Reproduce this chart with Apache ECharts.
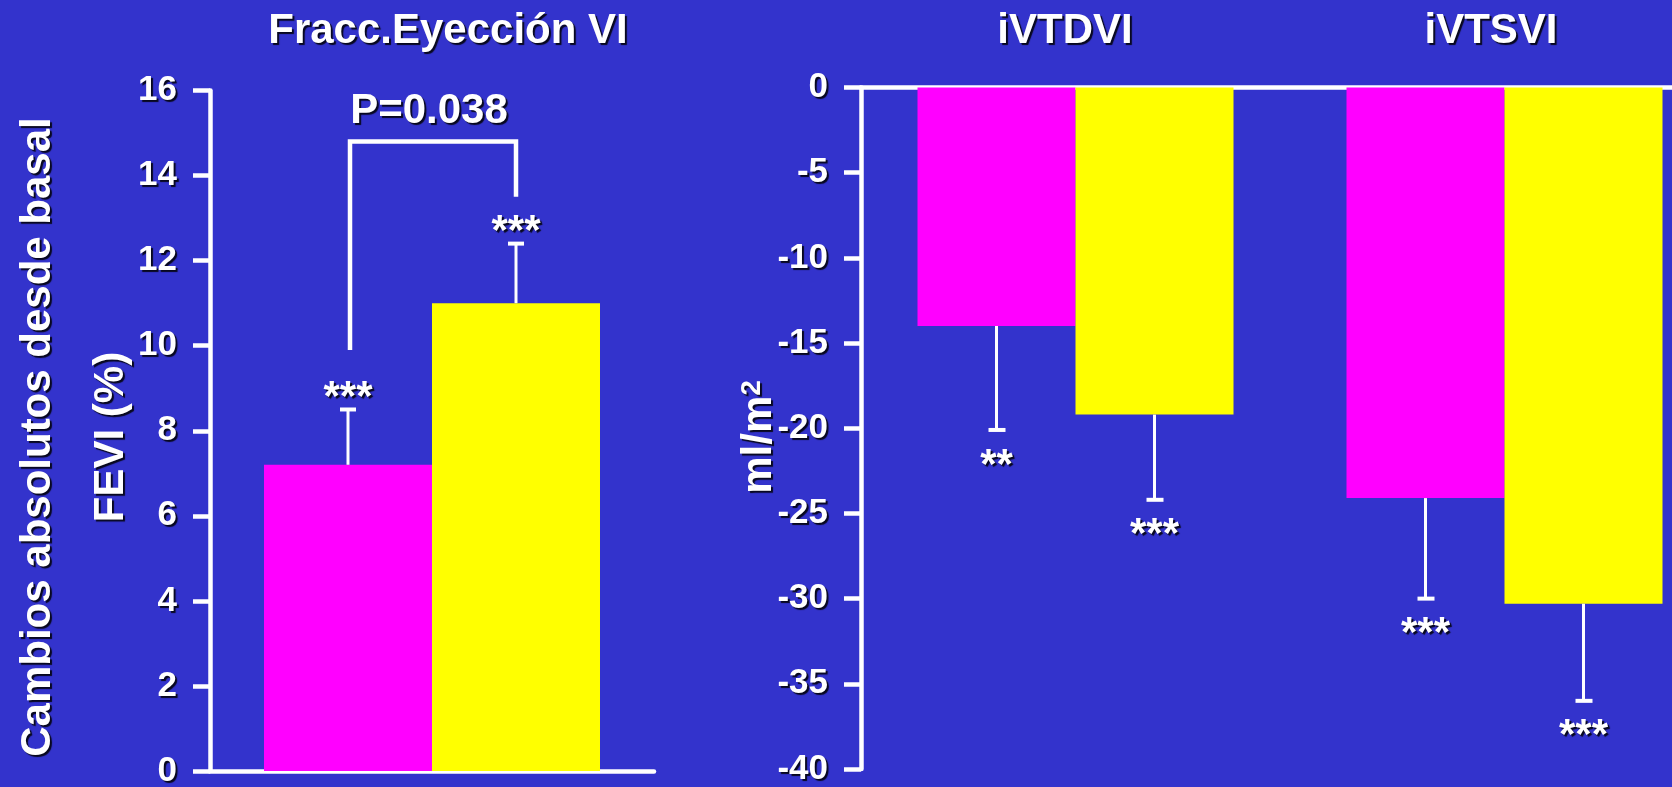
<!DOCTYPE html>
<html><head><meta charset="utf-8">
<script src="https://cdn.jsdelivr.net/npm/echarts@6/dist/echarts.min.js"></script>
<style>html,body{margin:0;padding:0;background:#3333cc}#c{width:1672px;height:787px}</style>
</head><body><div id="c"></div>
<script>
// ---- data ----
const feviCategories = ['FEVI'];
const feviMeans = [7.2, 11.0];          // magenta, yellow
const feviErrTops = [8.5, 12.4];
const feviStars = ['***', '***'];
const bracketValues = [9.9, 14.8, 13.5]; // left foot, top, right foot
const bracketText = 'P=0.038';

const volCategories = ['iVTDVI', 'iVTSVI'];
const volMagenta = [-14.0, -24.1];
const volYellow = [-19.2, -30.3];
const volMagentaErr = [-20.1, -30.0];
const volYellowErr = [-24.2, -36.0];
const volMagentaStars = ['**', '***'];
const volYellowStars = ['***', '***'];

const titles = ['Fracc.Eyección VI', 'iVTDVI', 'iVTSVI'];
const leftAxisNames = ['Cambios absolutos desde basal', 'FEVI (%)'];
const rightAxisName = ['ml/m', '2'];

// ---- style ----
const BG = '#3333cc', MAG = '#ff00ff', YEL = '#ffff00', W = '#ffffff';
const FONT = '"Liberation Sans", Arial, Helvetica, sans-serif';
const shadow = { textShadowColor: 'rgba(0,0,0,0.85)', textShadowOffsetX: 2, textShadowOffsetY: 2, textShadowBlur: 1 };
const BW_L = 168, BW_R = 158;

const chart = echarts.init(document.getElementById('c'), null, { renderer: 'canvas' });

function axisLabel() {
  return Object.assign({ color: W, fontSize: 35, fontWeight: 'bold', fontFamily: FONT, margin: 33 }, shadow);
}
function txt(text, size) {
  return Object.assign({ text: text, fill: W, font: 'bold ' + size + 'px ' + FONT, align: 'center', verticalAlign: 'middle' }, shadow);
}

const feviErrData = feviMeans.map((m, i) => [0, m, feviErrTops[i], i]);
const volErrData = [];
volCategories.forEach((c, j) => {
  volErrData.push([j, volMagenta[j], volMagentaErr[j], 0]);
  volErrData.push([j, volYellow[j], volYellowErr[j], 1]);
});

const option = {
  backgroundColor: BG,
  animation: false,
  grid: [
    { left: 210, top: 90.5, width: 444, height: 680.5, outerBoundsMode: 'none', containLabel: false },
    { left: 861, top: 87.5, width: 858, height: 681.5, outerBoundsMode: 'none', containLabel: false }
  ],
  xAxis: [
    { type: 'category', gridIndex: 0, data: feviCategories,
      axisLine: { lineStyle: { color: W, width: 4.5 } }, axisTick: { show: false }, axisLabel: { show: false } },
    { type: 'category', gridIndex: 1, data: volCategories, position: 'top',
      axisLine: { lineStyle: { color: W, width: 4.5 } }, axisTick: { show: false }, axisLabel: { show: false } }
  ],
  yAxis: [
    { type: 'value', gridIndex: 0, min: 0, max: 16, interval: 2,
      axisLine: { show: true, lineStyle: { color: W, width: 4.5 } },
      axisTick: { show: true, length: 17, lineStyle: { color: W, width: 4.5 } },
      splitLine: { show: false }, axisLabel: axisLabel() },
    { type: 'value', gridIndex: 1, min: -40, max: 0, interval: 5,
      axisLine: { show: true, lineStyle: { color: W, width: 4.5 } },
      axisTick: { show: true, length: 17, lineStyle: { color: W, width: 4.5 } },
      splitLine: { show: false }, axisLabel: axisLabel() }
  ],
  series: [
    { type: 'bar', xAxisIndex: 0, yAxisIndex: 0, data: [feviMeans[0]], barWidth: BW_L, barGap: '0%', itemStyle: { color: MAG } },
    { type: 'bar', xAxisIndex: 0, yAxisIndex: 0, data: [feviMeans[1]], barWidth: BW_L, barGap: '0%', itemStyle: { color: YEL } },
    { type: 'bar', xAxisIndex: 1, yAxisIndex: 1, data: volMagenta, barWidth: BW_R, barGap: '0%', itemStyle: { color: MAG } },
    { type: 'bar', xAxisIndex: 1, yAxisIndex: 1, data: volYellow, barWidth: BW_R, barGap: '0%', itemStyle: { color: YEL } },
    { type: 'custom', xAxisIndex: 0, yAxisIndex: 0, z: 5, data: feviErrData,
      renderItem: function (params, api) {
        const k = api.value(3);
        const base = api.coord([api.value(0), api.value(1)]);
        const end = api.coord([api.value(0), api.value(2)]);
        const x = base[0] + (k - 0.5) * BW_L;
        return {
          type: 'group',
          children: [
            { type: 'line', shape: { x1: x, y1: base[1], x2: x, y2: end[1] }, style: { stroke: W, lineWidth: 3 } },
            { type: 'rect', shape: { x: x - 8, y: end[1] - 2, width: 16, height: 4 }, style: { fill: W } },
            { type: 'text', x: x, y: end[1] - 11, style: txt(feviStars[k], 42) }
          ]
        };
      } },
    { type: 'custom', xAxisIndex: 0, yAxisIndex: 0, z: 5, data: [[0].concat(bracketValues)],
      renderItem: function (params, api) {
        const c = api.coord([api.value(0), api.value(2)]);
        const xL = c[0] - BW_L / 2 + 2, xR = c[0] + BW_L / 2;
        const yL = api.coord([0, api.value(1)])[1];
        const yT = c[1];
        const yR = api.coord([0, api.value(3)])[1];
        return {
          type: 'group',
          children: [
            { type: 'polyline', shape: { points: [[xL, yL], [xL, yT], [xR, yT], [xR, yR]] },
              style: { stroke: W, lineWidth: 4.5, fill: null, lineJoin: 'miter' } },
            { type: 'text', x: (xL + xR) / 2 - 4, y: yT - 30, style: txt(bracketText, 42) }
          ]
        };
      } },
    { type: 'custom', xAxisIndex: 1, yAxisIndex: 1, z: 5, data: volErrData,
      renderItem: function (params, api) {
        const k = api.value(3);
        const j = api.value(0);
        const base = api.coord([j, api.value(1)]);
        const end = api.coord([j, api.value(2)]);
        const x = base[0] + (k - 0.5) * BW_R;
        const label = (k === 0 ? volMagentaStars : volYellowStars)[j];
        return {
          type: 'group',
          children: [
            { type: 'line', shape: { x1: x, y1: base[1], x2: x, y2: end[1] }, style: { stroke: W, lineWidth: 3 } },
            { type: 'rect', shape: { x: x - 8, y: end[1] - 2, width: 17, height: 4 }, style: { fill: W } },
            { type: 'text', x: x, y: end[1] + 36, style: txt(label, 42) }
          ]
        };
      } }
  ],
  graphic: [
    { type: 'text', x: 448, y: 31, style: txt(titles[0], 42) },
    { type: 'text', x: 1065, y: 31, style: txt(titles[1], 42) },
    { type: 'text', x: 1491, y: 31, style: txt(titles[2], 42) },
    { type: 'text', x: 38, y: 437, rotation: Math.PI / 2, style: txt(leftAxisNames[0], 42) },
    { type: 'text', x: 111, y: 437, rotation: Math.PI / 2, style: txt(leftAxisNames[1], 42) },
    { type: 'text', x: 759, y: 437, rotation: Math.PI / 2,
      style: Object.assign({
        text: '{a|' + rightAxisName[0] + '}{b|' + rightAxisName[1] + '}',
        fill: W, align: 'center', verticalAlign: 'middle',
        rich: {
          a: { fill: W, font: 'bold 42px ' + FONT, verticalAlign: 'middle' },
          b: { fill: W, font: 'bold 28px ' + FONT, verticalAlign: 'top' }
        }
      }, shadow) }
  ]
};
chart.setOption(option);
</script>
</body></html>
